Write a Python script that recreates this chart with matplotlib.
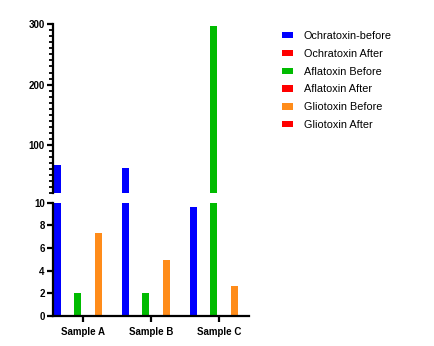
import numpy as np
import matplotlib
matplotlib.use("Agg")
import matplotlib.pyplot as plt
from matplotlib.ticker import MultipleLocator

plt.rcParams['font.family'] = ['Liberation Sans', 'DejaVu Sans']

samples = ["Sample A", "Sample B", "Sample C"]
series = ["Ochratoxin-before", "Ochratoxin After", "Aflatoxin Before",
          "Aflatoxin After", "Gliotoxin Before", "Gliotoxin After"]
ochratoxin_before = [66, 62, 9.65]
ochratoxin_after = [0, 0, 0]
aflatoxin_before = [2.0, 2.05, 298]
aflatoxin_after = [0, 0, 0]
gliotoxin_before = [7.35, 4.97, 2.67]
gliotoxin_after = [0, 0, 0]
values = [ochratoxin_before, ochratoxin_after, aflatoxin_before,
          aflatoxin_after, gliotoxin_before, gliotoxin_after]
colors = ["#0000FF", "#FF0000", "#00BB00", "#FF0000", "#FF8C1A", "#FF0000"]

W, H = 434, 346
fig = plt.figure(figsize=(W / 100, H / 100), dpi=100)

left, right = 53, 249
ax_top = fig.add_axes([left / W, 1 - 193 / H, (right - left) / W, (193 - 24.3) / H])
ax_bot = fig.add_axes([left / W, 1 - 316 / H, (right - left) / W, (316 - 202.7) / H])

x = np.arange(len(samples))
slot = 0.15
bw = 0.103
for i, (name, vals, c) in enumerate(zip(series, values, colors)):
    off = (i - 2.5) * slot
    for ax in (ax_top, ax_bot):
        ax.bar(x + off, vals, width=bw, color=c, label=name if ax is ax_bot else None,
               linewidth=0)

ax_top.set_ylim(20, 300)
ax_bot.set_ylim(0, 10)
for ax in (ax_top, ax_bot):
    ax.set_xlim(-0.44, 2.44)
    for s in ("top", "right"):
        ax.spines[s].set_visible(False)
    ax.spines["left"].set_linewidth(1.6)
    ax.tick_params(axis="y", width=1.6, length=4, labelsize=7, pad=2)

ax_top.spines["bottom"].set_visible(False)
ax_top.set_xticks([])
ax_top.yaxis.set_minor_locator(MultipleLocator(10))
ax_top.tick_params(axis="y", which="minor", width=1.3, length=3)
ax_top.set_yticks([100, 200, 300])
ax_top.set_yticklabels(["100", "200", "300"], fontweight="bold", fontsize=7)

ax_bot.spines["bottom"].set_linewidth(1.6)
ax_bot.set_yticks([0, 2, 4, 6, 8, 10])
ax_bot.set_yticklabels(["0", "2", "4", "6", "8", "10"], fontweight="bold", fontsize=7)
ax_bot.set_xticks(x)
ax_bot.set_xticklabels(samples, fontweight="bold", fontsize=7)
ax_bot.tick_params(axis="x", width=1.6, length=4, pad=4)

handles, labels = ax_bot.get_legend_handles_labels()
fig.legend(handles, labels, loc="upper left", bbox_to_anchor=(282 / W, 1 - 31 / H),
           frameon=False, fontsize=7.8, handlelength=1.0, handleheight=0.55,
           handletextpad=1.0, labelspacing=0.72, borderpad=0, borderaxespad=0)

fig.savefig("out.png", dpi=100)
